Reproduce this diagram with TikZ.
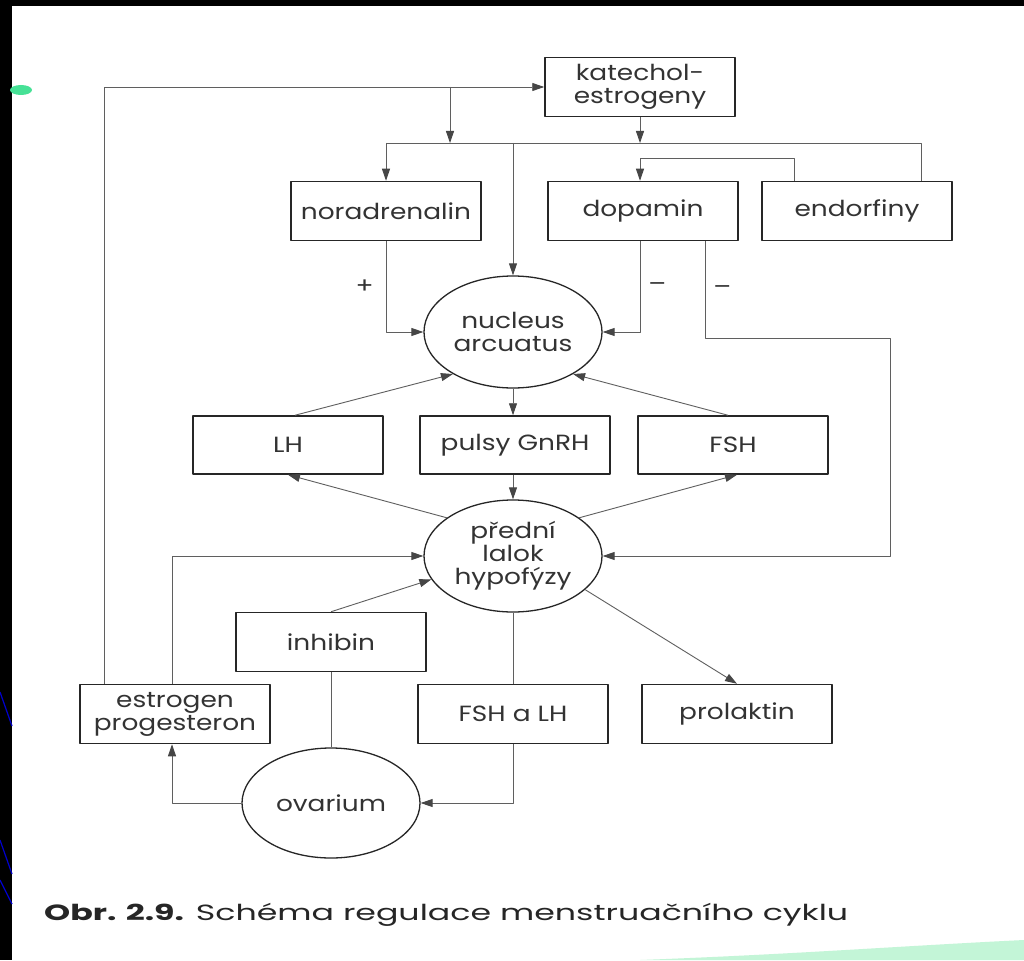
\documentclass[tikz,border=0pt]{standalone}
\usepackage{fontspec}
\setmainfont{Poppins}[FakeStretch=1.2]
\usepackage{graphicx}
\usetikzlibrary{shapes.geometric,arrows.meta}
\definecolor{linegray}{RGB}{95,95,95}
\definecolor{tipgray}{RGB}{70,70,70}
\definecolor{mint}{RGB}{70,225,150}
\definecolor{paleminth}{RGB}{195,245,215}
\begin{document}
\begin{tikzpicture}[x=1pt, y=-1pt, font=\fontsize{22}{23}\selectfont, line join=round,
  box/.style={draw=black!85, line width=1.5pt, minimum width=190pt, minimum height=59pt, inner sep=0pt, align=center, text=black!80},
  oval/.style={ellipse, draw=black!85, line width=1.3pt, minimum width=178pt, minimum height=112pt, inner sep=0pt, align=center, text=black!80},
  conn/.style={draw=linegray, line width=0.9pt, -{Triangle[length=12pt,width=8pt,color=tipgray]}},
  link/.style={draw=linegray, line width=0.9pt},
  sign/.style={inner sep=0pt, text=black!80}]
\useasboundingbox (0,0) rectangle (1024,960);
% scanned page on the dark slide
\fill[black] (0,0) rectangle (1024,960);
\fill[white] (12,6) rectangle (1024,960);
\fill[mint] (21,90) ellipse (11pt and 5pt);
\fill[paleminth] (640,960) .. controls (800,954) and (900,946) .. (1024,940) -- (1024,960) -- cycle;
\draw[blue!80!black, line width=1.2pt] (0,692) -- (12,726);
\draw[blue!80!black, line width=1.2pt] (0,840) -- (12,874);
\draw[blue!80!black, line width=1.2pt] (0,880) -- (12,904);

% boxes and ovals
\node[box] (kat) at (640,87) {katechol-\\estrogeny};
\node[box] (nor) at (386,211) {noradrenalin};
\node[box] (dop) at (643,211) {dopamin};
\node[box] (endo) at (857,211) {endorfiny};
\node[oval] (nuc) at (513,332) {nucleus\\arcuatus};
\node[box, minimum height=58pt] (lh) at (288,445) {LH};
\node[box, minimum height=58pt] (gnrh) at (515,445) {pulsy GnRH};
\node[box, minimum height=58pt] (fsh) at (733,445) {FSH};
\node[oval] (hyp) at (513,556) {přední\\lalok\\hypofýzy};
\node[box] (inh) at (331,642) {inhibin};
\node[box] (estr) at (175,714) {estrogen\\progesteron};
\node[box] (fshlh) at (513,714) {FSH a LH};
\node[box] (prol) at (737,714) {prolaktin};
\node[oval, minimum height=110pt] (ova) at (331,803) {ovarium};

% connectors
\draw[conn] (estr.north -| 104,0) |- (kat.west);
\draw[conn] (kat.west -| 450,0) -- (450,143);
\draw[conn] (kat.south) -- (kat.south |- 0,143);
\draw[link] (nor.north |- 0,143) -- (921,143) -- (endo.north -| 921,0);
\draw[conn] (nor.north |- 0,143) -- (nor.north);
\draw[conn] (513,143) -- (nuc.north);
\draw[conn] (endo.north -| 794,0) |- (640,158) -- (dop.north -| 640,0);
\draw[conn] (nor.south) |- (nuc.west) node[sign, pos=0.25, left=12pt] {+};
\draw[conn] (dop.south -| 640,0) |- (nuc.east) node[sign, pos=0.25, right=8pt] {–};
\draw[conn] (dop.south -| 705,0) |- (890,338) node[sign, pos=0.25, right=8pt] {–} |- (hyp.east);
\draw[conn] ([xshift=7pt]lh.north) -- (nuc.215);
\draw[conn] ([xshift=-5pt]fsh.north) -- (nuc.325);
\draw[conn] (nuc.south) -- (nuc.south |- gnrh.north);
\draw[conn] (gnrh.south -| hyp.north) -- (hyp.north);
\draw[conn] (hyp.150) -- (lh.south);
\draw[conn] (hyp.30) -- ([xshift=4pt]fsh.south);
\draw[conn] (estr.north -| 172,0) |- (hyp.west);
\draw[conn] (inh.north) -- (hyp.196);
\draw[link] (hyp.south) -- (hyp.south |- fshlh.north);
\draw[conn] (hyp.335) -- (prol.north);
\draw[link] (inh.south) -- (ova.north);
\draw[conn] (fshlh.south) |- (ova.east);
\draw[conn] (ova.west) -| (estr.south -| 172,0);

% caption
\node[anchor=base west, inner sep=0pt, text=black!85] (cap) at (44,920) {\resizebox{804pt}{\height}{\textbf{Obr. 2.9.} Schéma regulace menstruačního cyklu}};
\end{tikzpicture}
\end{document}
